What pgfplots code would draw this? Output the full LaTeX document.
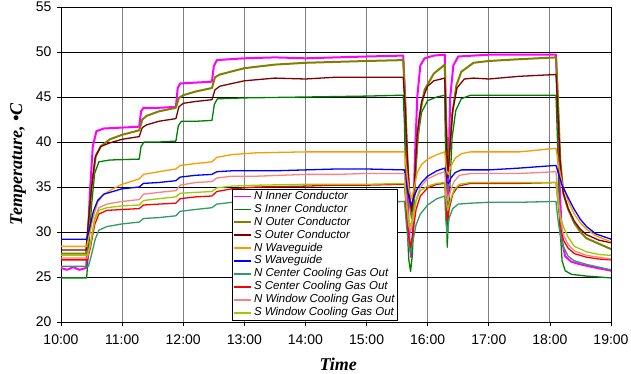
\documentclass[border=0pt]{standalone}
\usepackage{fontspec}
\setmainfont{Liberation Sans}
\newfontfamily\timesfont{Liberation Serif}
\usepackage{pgfplots}
\pgfplotsset{compat=1.18}
\definecolor{cNI}{HTML}{FF00FF}
\definecolor{cSI}{HTML}{008000}
\definecolor{cNO}{HTML}{808000}
\definecolor{cSO}{HTML}{800000}
\definecolor{cNW}{HTML}{FF9900}
\definecolor{cSW}{HTML}{0000FF}
\definecolor{cNC}{HTML}{339966}
\definecolor{cSC}{HTML}{FF0000}
\definecolor{cNWin}{HTML}{FF8080}
\definecolor{cSWin}{HTML}{99CC00}
\begin{document}
\begin{tikzpicture}
\path[use as bounding box] (-61pt,-52pt) rectangle (570pt,322pt);
\begin{axis}[
  at={(0,0)}, anchor=south west,
  scale only axis, width=550pt, height=315pt,
  xmin=10, xmax=19, ymin=20, ymax=55,
  xtick={10,11,...,19},
  xticklabels={10:00,11:00,12:00,13:00,14:00,15:00,16:00,17:00,18:00,19:00},
  ytick={20,25,...,55},
  /pgf/number format/assume math mode=true,
  tick label style={font=\fontsize{14}{16}\selectfont},
  xticklabel style={yshift=-5pt},
  yticklabel style={xshift=-2pt},
  tick align=outside, major tick length=4pt,
  tick style={black, line width=0.6pt},
  xtick pos=bottom, ytick pos=left,
  grid=major,
  x grid style={gray, line width=0.9pt},
  y grid style={black, line width=0.6pt},
  axis line style={black, line width=0.8pt},
  xlabel={\timesfont\bfseries\itshape Time},
  ylabel={\timesfont\bfseries\itshape Temperature, •C},
  label style={font=\fontsize{18}{20}\selectfont},
  xlabel style={at={(axis description cs:0.504,-0.133)}, anchor=center},
  ylabel style={at={(axis description cs:-0.078,0.5)}, anchor=center},
  legend style={at={(rel axis cs:0.311,0.006)}, anchor=south west,
    draw=black, fill=white,
    font=\fontsize{11.5}{13}\selectfont\itshape,
    inner xsep=1pt, inner ysep=0.8pt,
    nodes={text height=8.3pt, text depth=2.6pt, inner ysep=1pt, inner xsep=2pt},
    row sep=0pt},
  legend cell align=left,
  legend image code/.code={\draw[#1] (0pt,0pt) -- (17pt,0pt);},
  legend image post style={line width=1.8pt},
  every axis plot/.append style={line width=1.3pt, line join=round},
]
\addplot[cNI, line width=2pt] coordinates {
(10.00,26.0) (10.10,25.8) (10.20,26.1) (10.30,25.8) (10.41,26.0) (10.43,28) (10.47,34) (10.52,39.5) (10.58,41.2) (10.7,41.5) (11.0,41.6) (11.28,41.7) (11.31,43.4) (11.35,43.8) (11.6,43.8) (11.88,43.9) (11.91,46.0) (11.95,46.5) (12.2,46.6) (12.47,46.7) (12.50,48.4) (12.55,49.1) (13.0,49.3) (13.5,49.4) (14.0,49.3) (14.5,49.4) (15.0,49.5) (15.6,49.6) (15.63,45) (15.66,36) (15.70,29) (15.73,27.2) (15.76,30) (15.79,38) (15.83,45) (15.88,48.5) (15.95,49.3) (16.1,49.6) (16.28,49.7) (16.30,40) (16.32,32) (16.34,37) (16.37,45) (16.42,48.5) (16.5,49.5) (17.0,49.7) (17.5,49.7) (18.1,49.7) (18.13,44) (18.16,35) (18.2,29) (18.25,27.3) (18.35,26.7) (18.5,26.4) (18.7,26.1) (19.0,25.7)};
\addlegendentry{N Inner Conductor}
\addplot[cSI] coordinates {
(10.0,24.9) (10.42,24.9) (10.45,28) (10.5,33) (10.55,36.5) (10.62,37.8) (10.8,38.0) (11.28,38.1) (11.31,39.5) (11.36,40.0) (11.6,40.0) (11.88,40.1) (11.92,41.8) (11.97,42.3) (12.2,42.3) (12.47,42.4) (12.51,44.2) (12.56,44.8) (13.0,44.9) (14.0,45.0) (15.0,45.1) (15.6,45.2) (15.62,42) (15.65,33) (15.69,27) (15.72,25.6) (15.75,27.5) (15.79,35) (15.84,40.5) (15.9,43.3) (16.0,44.6) (16.15,45.0) (16.28,45.2) (16.30,36) (16.32,28.3) (16.35,33) (16.4,40.5) (16.46,43.5) (16.55,44.8) (16.7,45.2) (17.5,45.2) (18.1,45.2) (18.13,39) (18.16,31) (18.2,26.8) (18.25,25.7) (18.35,25.3) (18.6,25.1) (19.0,24.9)};
\addlegendentry{S Inner Conductor}
\addplot[cNO, line width=2pt] coordinates {
(10.0,27.6) (10.41,27.6) (10.44,30) (10.5,35) (10.57,38.5) (10.65,39.5) (10.8,40.3) (11.0,40.8) (11.28,41.3) (11.33,42.5) (11.4,42.9) (11.6,43.4) (11.88,43.8) (11.93,44.9) (12.0,45.2) (12.2,45.6) (12.47,46.0) (12.52,47.2) (12.6,47.5) (13.0,48.2) (13.5,48.6) (14.0,48.8) (14.5,48.9) (15.0,49.0) (15.6,49.1) (15.63,45) (15.67,38) (15.71,33) (15.74,31.5) (15.78,34) (15.82,39) (15.87,43) (15.95,45.8) (16.1,47.6) (16.28,48.6) (16.30,43) (16.33,37) (16.36,39) (16.4,43) (16.47,46.3) (16.55,47.8) (16.75,48.8) (17.0,49.0) (17.5,49.2) (18.1,49.4) (18.13,45) (18.17,38) (18.22,34.3) (18.3,32.5) (18.4,31.0) (18.5,30.0) (18.6,29.3) (18.8,28.7) (19.0,28.1)};
\addlegendentry{N Outer Conductor}
\addplot[cSO] coordinates {
(10.0,28.0) (10.41,28.0) (10.44,30.5) (10.5,35) (10.56,38.3) (10.65,39.5) (10.8,39.9) (11.0,40.3) (11.28,40.6) (11.33,41.6) (11.4,41.9) (11.6,42.3) (11.88,42.6) (11.93,43.9) (12.0,44.3) (12.2,44.5) (12.47,44.7) (12.52,45.8) (12.6,46.2) (13.0,46.8) (13.5,47.1) (14.0,47.0) (14.5,47.2) (15.0,47.2) (15.6,47.2) (15.63,44) (15.67,38) (15.71,33.5) (15.74,32.3) (15.78,35) (15.83,41) (15.9,44.5) (16.0,46.2) (16.1,46.8) (16.28,47.1) (16.30,42) (16.33,36) (16.36,39) (16.41,43.5) (16.48,46) (16.6,47.0) (16.75,47.1) (17.0,47.0) (17.5,47.3) (18.1,47.5) (18.13,43.5) (18.17,37.5) (18.22,34.3) (18.3,32.6) (18.4,31.2) (18.5,30.3) (18.6,29.7) (18.8,29.1) (19.0,28.8)};
\addlegendentry{S Outer Conductor}
\addplot[cNW] coordinates {
(10.0,28.4) (10.42,28.4) (10.46,29.5) (10.52,31.5) (10.6,33.3) (10.7,34.2) (10.85,34.8) (11.0,35.3) (11.28,35.9) (11.35,36.4) (11.6,36.7) (11.88,37.0) (11.95,37.4) (12.2,37.6) (12.47,37.8) (12.55,38.3) (12.8,38.6) (13.2,38.8) (14.0,38.9) (14.5,38.9) (15.0,38.9) (15.62,38.9) (15.66,36.5) (15.7,34.5) (15.74,33.7) (15.78,35.0) (15.83,36.6) (15.9,37.5) (16.0,38.1) (16.15,38.6) (16.28,38.9) (16.31,36.8) (16.34,36.4) (16.38,37.3) (16.45,38.2) (16.55,38.7) (16.7,38.9) (17.0,38.9) (17.5,38.9) (18.1,39.3) (18.14,37.5) (18.2,35.5) (18.3,33.4) (18.4,32.0) (18.5,31.0) (18.6,30.3) (18.75,29.6) (19.0,28.9)};
\addlegendentry{N Waveguide}
\addplot[cSW] coordinates {
(10.0,29.2) (10.42,29.2) (10.47,30.5) (10.53,32.3) (10.6,33.5) (10.7,34.2) (10.85,34.5) (11.0,34.8) (11.28,35.0) (11.35,35.4) (11.6,35.5) (11.88,35.7) (11.95,36.1) (12.2,36.3) (12.47,36.4) (12.55,36.7) (12.8,36.8) (13.5,36.8) (14.0,36.9) (14.5,37.0) (15.0,37.0) (15.62,36.9) (15.66,35.0) (15.7,33.6) (15.73,33.0) (15.77,33.8) (15.83,34.8) (15.9,35.5) (16.0,36.2) (16.15,36.8) (16.28,37.1) (16.31,35.6) (16.34,35.4) (16.38,36.0) (16.45,36.6) (16.55,36.9) (17.0,36.9) (17.5,37.1) (18.1,37.4) (18.14,36.5) (18.2,35.2) (18.3,33.8) (18.4,32.5) (18.5,31.4) (18.6,30.6) (18.75,29.8) (19.0,29.2)};
\addlegendentry{S Waveguide}
\addplot[cNC] coordinates {
(10.0,26.2) (10.45,26.2) (10.5,27.5) (10.56,29.2) (10.62,30.2) (10.75,30.6) (11.0,30.9) (11.28,31.1) (11.35,31.5) (11.6,31.6) (11.88,31.8) (11.95,32.3) (12.2,32.5) (12.47,32.7) (12.55,33.1) (12.8,33.3) (13.0,33.4) (13.5,33.5) (14.0,33.5) (14.5,33.4) (15.0,33.4) (15.3,33.3) (15.62,33.4) (15.65,31.0) (15.69,28.5) (15.72,27.7) (15.76,29.0) (15.81,30.8) (15.88,32.0) (16.0,33.0) (16.15,33.7) (16.28,34.0) (16.3,31) (16.32,29.8) (16.35,31.5) (16.41,32.6) (16.5,33.1) (16.7,33.2) (17.0,33.3) (17.5,33.3) (18.1,33.4) (18.13,31.5) (18.17,29.6) (18.22,28.4) (18.3,27.3) (18.4,26.8) (18.6,26.4) (18.8,26.1) (19.0,25.8)};
\addlegendentry{N Center Cooling Gas Out}
\addplot[cSC] coordinates {
(10.0,26.9) (10.43,26.9) (10.48,28.2) (10.55,30.8) (10.62,32.0) (10.75,32.4) (11.0,32.5) (11.28,32.6) (11.35,33.0) (11.6,33.1) (11.88,33.2) (11.95,33.7) (12.2,33.9) (12.47,34.0) (12.55,34.5) (12.8,34.8) (13.2,35.0) (14.0,35.1) (14.5,35.2) (15.0,35.2) (15.62,35.3) (15.65,32.5) (15.69,29.5) (15.72,28.3) (15.76,30.0) (15.81,32.5) (15.88,34.0) (16.0,34.9) (16.15,35.3) (16.28,35.4) (16.3,33) (16.32,31.3) (16.35,32.5) (16.41,34.2) (16.5,35.1) (16.7,35.4) (17.0,35.4) (17.5,35.4) (18.1,35.5) (18.13,33.5) (18.17,31.0) (18.22,29.1) (18.3,28.2) (18.4,27.6) (18.6,27.2) (18.8,27.0) (19.0,26.9)};
\addlegendentry{S Center Cooling Gas Out}
\addplot[cNWin] coordinates {
(10.0,27.1) (10.43,27.1) (10.48,28.5) (10.55,31.5) (10.62,32.7) (10.75,33.1) (11.0,33.4) (11.28,33.6) (11.35,34.2) (11.6,34.4) (11.88,34.6) (11.95,35.2) (12.2,35.5) (12.47,35.6) (12.55,36.0) (12.8,36.2) (13.2,36.2) (14.0,36.4) (14.5,36.4) (15.0,36.5) (15.62,36.5) (15.65,33.5) (15.69,30.8) (15.72,30.0) (15.76,31.2) (15.81,33.5) (15.88,35.0) (16.0,35.9) (16.15,36.4) (16.28,36.7) (16.3,34.5) (16.33,33.5) (16.37,34.5) (16.43,35.6) (16.52,36.3) (16.7,36.5) (17.0,36.5) (17.5,36.5) (18.1,36.7) (18.13,34.5) (18.17,31.5) (18.22,29.7) (18.3,28.6) (18.4,27.9) (18.6,27.4) (18.8,27.2) (19.0,27.0)};
\addlegendentry{N Window Cooling Gas Out}
\addplot[cSWin] coordinates {
(10.0,27.4) (10.43,27.4) (10.48,28.7) (10.55,31.3) (10.62,32.4) (10.75,32.7) (11.0,32.9) (11.28,33.0) (11.35,33.5) (11.6,33.7) (11.88,33.9) (11.95,34.3) (12.2,34.4) (12.47,34.5) (12.55,34.9) (12.8,35.1) (13.2,35.2) (14.0,35.3) (14.5,35.3) (15.0,35.3) (15.62,35.4) (15.65,33.5) (15.69,31.3) (15.72,30.6) (15.76,31.8) (15.81,33.5) (15.88,34.6) (16.0,35.1) (16.15,35.4) (16.28,35.5) (16.3,33.5) (16.33,32.4) (16.37,33.5) (16.43,34.7) (16.52,35.3) (16.7,35.5) (17.0,35.5) (17.5,35.5) (18.1,35.5) (18.13,33.5) (18.17,31.7) (18.22,30.6) (18.3,29.4) (18.4,28.4) (18.6,27.8) (18.8,27.5) (19.0,27.4)};
\addlegendentry{S Window Cooling Gas Out}
\end{axis}
\end{tikzpicture}
\end{document}
